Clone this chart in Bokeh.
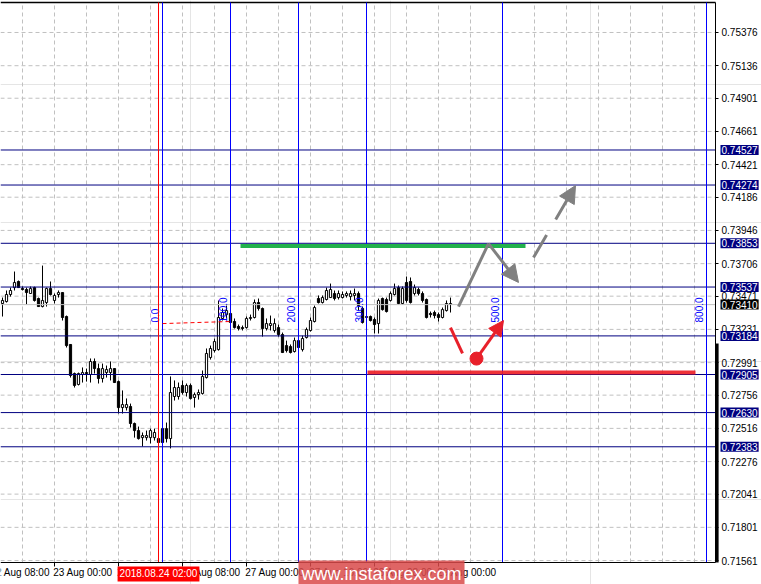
import math
from bokeh.plotting import figure
from bokeh.models import (Range1d, FixedTicker, LinearAxis, Label, Arrow,
                          NormalHead, ColumnDataSource, PrintfTickFormatter)
from bokeh.core.properties import value
from bokeh.embed import file_html
from bokeh.resources import INLINE

# ---------------- data (H1 bars, index 0 = 22 Aug 08:00) ----------------
bar_index = list(range(3, 116))
opens = [0.73418, 0.73432, 0.73483, 0.73533, 0.73577, 0.73526, 0.73519, 0.73490, 0.73533, 0.73454,
         0.73396, 0.73425, 0.73526, 0.73440, 0.73483, 0.73497, 0.73324, 0.73122, 0.72912, 0.72833,
         0.72905, 0.72919, 0.72905, 0.72999, 0.72948, 0.72876, 0.72919, 0.72919, 0.72948, 0.72854,
         0.72666, 0.72666, 0.72674, 0.72551, 0.72500, 0.72449, 0.72449, 0.72449, 0.72449, 0.72442,
         0.72514, 0.72514, 0.72442, 0.72746, 0.72746, 0.72826, 0.72775, 0.72826, 0.72739, 0.72760,
         0.72768, 0.72883, 0.73028, 0.73078, 0.73085, 0.73310, 0.73338, 0.73346, 0.73288, 0.73252,
         0.73244, 0.73244, 0.73310, 0.73317, 0.73425, 0.73382, 0.73237, 0.73259, 0.73223, 0.73244,
         0.73194, 0.73114, 0.73107, 0.73071, 0.73150, 0.73085, 0.73172, 0.73223, 0.73288, 0.73454,
         0.73425, 0.73447, 0.73461, 0.73490, 0.73461, 0.73461, 0.73476, 0.73468, 0.73476, 0.73490,
         0.73382, 0.73317, 0.73324, 0.73302, 0.73273, 0.73454, 0.73447, 0.73440, 0.73483, 0.73533,
         0.73418, 0.73570, 0.73577, 0.73490, 0.73519, 0.73490, 0.73447, 0.73346, 0.73353, 0.73338,
         0.73317, 0.73367, 0.73411]
highs = [0.73461, 0.73512, 0.73533, 0.73649, 0.73584, 0.73541, 0.73533, 0.73541, 0.73540, 0.73461,
         0.73692, 0.73533, 0.73577, 0.73490, 0.73512, 0.73500, 0.73331, 0.73125, 0.72919, 0.72919,
         0.72956, 0.72948, 0.73021, 0.73021, 0.72984, 0.72984, 0.72970, 0.72999, 0.72950, 0.72862,
         0.72790, 0.72732, 0.72695, 0.72558, 0.72529, 0.72486, 0.72500, 0.72514, 0.72514, 0.72471,
         0.72529, 0.72558, 0.72891, 0.72862, 0.72847, 0.72862, 0.72840, 0.72840, 0.72775, 0.72797,
         0.72934, 0.73093, 0.73114, 0.73165, 0.73440, 0.73382, 0.73403, 0.73360, 0.73310, 0.73266,
         0.73259, 0.73324, 0.73338, 0.73447, 0.73454, 0.73389, 0.73310, 0.73331, 0.73310, 0.73266,
         0.73208, 0.73150, 0.73122, 0.73172, 0.73172, 0.73186, 0.73244, 0.73317, 0.73403, 0.73476,
         0.73476, 0.73533, 0.73562, 0.73512, 0.73512, 0.73505, 0.73505, 0.73512, 0.73526, 0.73505,
         0.73396, 0.73331, 0.73331, 0.73317, 0.73454, 0.73461, 0.73461, 0.73505, 0.73562, 0.73548,
         0.73541, 0.73613, 0.73606, 0.73555, 0.73533, 0.73505, 0.73454, 0.73360, 0.73367, 0.73353,
         0.73389, 0.73440, 0.73461]
lows = [0.73324, 0.73425, 0.73468, 0.73512, 0.73533, 0.73512, 0.73411, 0.73490, 0.73432, 0.73396,
        0.73390, 0.73396, 0.73476, 0.73418, 0.73461, 0.73295, 0.73100, 0.72883, 0.72811, 0.72826,
        0.72847, 0.72854, 0.72847, 0.72912, 0.72840, 0.72847, 0.72883, 0.72862, 0.72847, 0.72623,
        0.72623, 0.72645, 0.72522, 0.72449, 0.72435, 0.72385, 0.72428, 0.72407, 0.72428, 0.72399,
        0.72399, 0.72414, 0.72371, 0.72717, 0.72724, 0.72760, 0.72746, 0.72724, 0.72666, 0.72724,
        0.72760, 0.72876, 0.73013, 0.73064, 0.73078, 0.73295, 0.73310, 0.73266, 0.73237, 0.73223,
        0.73223, 0.73237, 0.73295, 0.73310, 0.73367, 0.73179, 0.73223, 0.73223, 0.73208, 0.73179,
        0.73060, 0.73064, 0.73057, 0.73064, 0.73085, 0.73071, 0.73165, 0.73215, 0.73281, 0.73418,
        0.73418, 0.73440, 0.73461, 0.73440, 0.73447, 0.73454, 0.73461, 0.73440, 0.73440, 0.73367,
        0.73273, 0.73310, 0.73288, 0.73201, 0.73201, 0.73367, 0.73353, 0.73432, 0.73476, 0.73411,
        0.73411, 0.73425, 0.73418, 0.73476, 0.73476, 0.73425, 0.73310, 0.73317, 0.73310, 0.73288,
        0.73310, 0.73360, 0.73353]
closes = [0.73440, 0.73483, 0.73512, 0.73570, 0.73533, 0.73519, 0.73497, 0.73526, 0.73440, 0.73396,
          0.73440, 0.73526, 0.73483, 0.73476, 0.73497, 0.73317, 0.73114, 0.72898, 0.72826, 0.72912,
          0.72919, 0.72912, 0.72999, 0.72948, 0.72876, 0.72948, 0.72941, 0.72948, 0.72847, 0.72666,
          0.72688, 0.72688, 0.72551, 0.72500, 0.72442, 0.72464, 0.72464, 0.72500, 0.72486, 0.72414,
          0.72414, 0.72442, 0.72775, 0.72811, 0.72811, 0.72775, 0.72826, 0.72732, 0.72760, 0.72775,
          0.72891, 0.73057, 0.73093, 0.73143, 0.73317, 0.73353, 0.73367, 0.73281, 0.73244, 0.73237,
          0.73237, 0.73310, 0.73317, 0.73425, 0.73382, 0.73237, 0.73273, 0.73273, 0.73273, 0.73194,
          0.73064, 0.73078, 0.73064, 0.73150, 0.73100, 0.73165, 0.73230, 0.73295, 0.73389, 0.73425,
          0.73461, 0.73512, 0.73519, 0.73454, 0.73490, 0.73483, 0.73490, 0.73490, 0.73490, 0.73403,
          0.73281, 0.73324, 0.73295, 0.73266, 0.73440, 0.73374, 0.73360, 0.73490, 0.73526, 0.73418,
          0.73526, 0.73440, 0.73425, 0.73533, 0.73490, 0.73440, 0.73317, 0.73338, 0.73331, 0.73317,
          0.73374, 0.73418, 0.73418]

price_ticks = [0.75376, 0.75136, 0.74901, 0.74661, 0.74421, 0.74186, 0.73946, 0.73706, 0.73471,
               0.73231, 0.72991, 0.72756, 0.72516, 0.72276, 0.72041, 0.71801, 0.71561]
level_prices = [0.74527, 0.74274, 0.73853, 0.73537, 0.73184, 0.72905, 0.72630, 0.72383]
bid_price = 0.73410

time_bars = [0, 16, 32, 48, 64, 80, 96, 112]
time_labels = ["22 Aug 08:00", "23 Aug 00:00", "23 Aug 16:00", "24 Aug 08:00",
               "27 Aug 00:00", "27 Aug 16:00", "28 Aug 08:00", "29 Aug 00:00"]
cursor_bar = 42
cursor_label = "2018.08.24 02:00"

fib_levels = [0, 100, 200, 300, 500, 800]
fib_base_bar = 43
fib_unit_bars = 17
fib_label_price = 0.73281
fib_trend = ([43, 60], [0.73273, 0.73288])

green_line = ([62.5, 133.75], [0.73833, 0.73833])
red_line = ([94.25, 176.25], [0.72920, 0.72920])
gray_path = ([117.0, 124.5], [0.73396, 0.73851])
gray_arrow = (124.5, 0.73851, 132.0, 0.73570)
gray_dash_arrow = (135.75, 0.73750, 146.25, 0.74270)
red_stroke = ([115.0, 118.0], [0.73244, 0.73057])
red_dot = (121.5, 0.73020)
red_arrow = (121.5, 0.73020, 128.25, 0.73295)

# ---------------- figure: frame covers whole canvas ----------------
FONT = "Liberation Sans"
X_LEFT, X_RIGHT = 2.5, 192.75        # full canvas in bar units
Y_BOTTOM, Y_TOP = 0.71388, 0.75607   # full canvas in price units
CH_RIGHT = 181.25                    # chart area right edge (bar units)
CH_BOTTOM, CH_TOP = 0.71547, 0.75593 # chart area bottom / top (price)
LABEL_SHIFT = 7.1                    # left-aligned time labels: centre offset in bars

p = figure(width=761, height=584, output_backend="svg", toolbar_location=None,
           x_range=Range1d(X_LEFT, X_RIGHT), y_range=Range1d(Y_BOTTOM, Y_TOP),
           min_border_left=0, min_border_right=0, min_border_top=0, min_border_bottom=0,
           background_fill_color="white", border_fill_color="white",
           outline_line_color=None, x_axis_location=None, y_axis_location=None)

# grid (dashed, only inside the chart area)
vgrid = list(range(8, 184, 8))
p.segment(x0=vgrid, y0=[CH_BOTTOM] * len(vgrid), x1=vgrid, y1=[CH_TOP] * len(vgrid),
          line_color="#c0c0c0", line_width=1, line_dash="4 3")
p.segment(x0=[X_LEFT] * len(price_ticks), y0=price_ticks, x1=[CH_RIGHT] * len(price_ticks),
          y1=price_ticks, line_color="#c0c0c0", line_width=1, line_dash="4 3")

# price axis drawn at the chart's right edge
yax = LinearAxis(ticker=FixedTicker(ticks=price_ticks),
                 formatter=PrintfTickFormatter(format="%.5f"),
                 fixed_location=CH_RIGHT, bounds=(CH_BOTTOM, CH_TOP),
                 axis_line_color="black", axis_line_width=1,
                 major_tick_line_color="black", major_tick_in=0, major_tick_out=3,
                 minor_tick_line_color=None, major_label_standoff=3,
                 major_label_text_font=FONT, major_label_text_font_size="10px",
                 major_label_text_color="black")
p.add_layout(yax, "right")

# time axis: tick marks
xax = LinearAxis(ticker=FixedTicker(ticks=time_bars[1:]),
                 fixed_location=CH_BOTTOM, bounds=(X_LEFT, CH_RIGHT),
                 axis_line_color="black", axis_line_width=1,
                 major_tick_line_color="black", major_tick_in=0, major_tick_out=4,
                 minor_tick_line_color=None, major_label_text_color=None)
p.add_layout(xax, "below")
# time axis: labels that start at their tick (MetaTrader style)
label_ticks = [b + LABEL_SHIFT for b in time_bars[1:]]
xlab = LinearAxis(ticker=FixedTicker(ticks=label_ticks),
                  major_label_overrides={t: s for t, s in zip(label_ticks, time_labels[1:])},
                  fixed_location=CH_BOTTOM, bounds=(X_LEFT, CH_RIGHT),
                  axis_line_color=None, major_tick_line_color=None,
                  major_tick_in=0, major_tick_out=0, minor_tick_line_color=None,
                  major_label_standoff=5,
                  major_label_text_font=FONT, major_label_text_font_size="10px",
                  major_label_text_color="black")
p.add_layout(xlab, "below")
# first label starts left of the window edge, as in the original
p.add_layout(Label(x=time_bars[0], y=CH_BOTTOM, y_offset=-5, text=time_labels[0],
                   text_align="left", text_baseline="top", text_color="black",
                   text_font=FONT, text_font_size="10px"))

# top border and thick lower part of the right border
p.line([X_LEFT, CH_RIGHT], [CH_TOP, CH_TOP], line_color="black", line_width=1.5)
p.line([CH_RIGHT + 0.4, CH_RIGHT + 0.4], [CH_BOTTOM, 0.73129], line_color="black", line_width=3)

# candles
up = [c >= o for o, c in zip(opens, closes)]
src = ColumnDataSource(dict(
    x=bar_index, high=highs, low=lows,
    top=[max(o, c) for o, c in zip(opens, closes)],
    bottom=[min(o, c) for o, c in zip(opens, closes)],
    fill=["white" if u else "black" for u in up]))
p.segment(x0="x", y0="low", x1="x", y1="high", source=src, line_color="black", line_width=1)
p.vbar(x="x", width=0.55, top="top", bottom="bottom", source=src,
       fill_color="fill", line_color="black", line_width=1)

# horizontal levels
p.line([X_LEFT, CH_RIGHT], [bid_price, bid_price], line_color="#c0c0c0", line_width=1)
p.segment(x0=[X_LEFT] * len(level_prices), y0=level_prices,
          x1=[CH_RIGHT] * len(level_prices), y1=level_prices,
          line_color="#000080", line_width=1)

# fib time zones
fib_bars = [fib_base_bar + lv / 100 * fib_unit_bars for lv in fib_levels]
p.segment(x0=fib_bars, y0=[CH_BOTTOM] * len(fib_bars), x1=fib_bars, y1=[CH_TOP] * len(fib_bars),
          line_color="#0000ff", line_width=1)
p.text(x=fib_bars, y=[fib_label_price] * len(fib_bars),
       text=[f"{lv:.1f}" for lv in fib_levels], angle=math.pi / 2,
       text_align="left", text_baseline="bottom", x_offset=-4,
       text_color="#0000ff", text_font=value(FONT), text_font_size="10px")
p.line(fib_trend[0], fib_trend[1], line_color="red", line_width=1, line_dash="4 3")

# cursor line
p.line([cursor_bar, cursor_bar], [CH_BOTTOM, CH_TOP], line_color="red", line_width=1)

# drawings
p.line(green_line[0], green_line[1], line_color="#22b14c", line_width=4)
p.line(red_line[0], red_line[1], line_color="#ed1c24", line_width=4, line_alpha=0.9)

gray = "#808080"
p.line(gray_path[0], gray_path[1], line_color=gray, line_width=3)
p.add_layout(Arrow(end=NormalHead(size=17, fill_color=gray, line_color=gray),
                   x_start=gray_arrow[0], y_start=gray_arrow[1],
                   x_end=gray_arrow[2], y_end=gray_arrow[3],
                   line_color=gray, line_width=3))
p.add_layout(Arrow(end=NormalHead(size=17, fill_color=gray, line_color=gray),
                   x_start=gray_dash_arrow[0], y_start=gray_dash_arrow[1],
                   x_end=gray_dash_arrow[2], y_end=gray_dash_arrow[3],
                   line_color=gray, line_width=3, line_dash="26 18"))

red = "#e8202a"
p.line(red_stroke[0], red_stroke[1], line_color=red, line_width=3)
p.scatter([red_dot[0]], [red_dot[1]], size=13, fill_color=red, line_color=red)
p.add_layout(Arrow(end=NormalHead(size=15, fill_color=red, line_color=red),
                   x_start=red_arrow[0], y_start=red_arrow[1],
                   x_end=red_arrow[2], y_end=red_arrow[3],
                   line_color=red, line_width=3))

# highlighted price labels on the axis
label_x = 182.5
for lv in level_prices:
    p.add_layout(Label(x=label_x, y=lv, text=f"{lv:.5f}", text_align="left",
                       text_baseline="middle", text_color="white", text_font=FONT,
                       text_font_size="10px", background_fill_color="#000080", padding=1))
p.add_layout(Label(x=label_x, y=bid_price, text=f"{bid_price:.5f}", text_align="left",
                   text_baseline="middle", text_color="white", text_font=FONT,
                   text_font_size="10px", background_fill_color="black", padding=1))

# cursor time label
p.add_layout(Label(x=cursor_bar, y=CH_BOTTOM, y_offset=-4, text=cursor_label,
                   text_align="center", text_baseline="top", text_color="white",
                   text_font=FONT, text_font_size="10px",
                   background_fill_color="red", padding=2))

# watermark
p.add_layout(Label(x=97.75, y=0.71467, text="www.instaforex.com", text_align="center",
                   text_baseline="middle", text_color="white", text_font=FONT,
                   text_font_size="18px", background_fill_color="#d94a4a",
                   background_fill_alpha=0.85, padding=3))

open("out.html", "w").write(file_html(p, INLINE))
